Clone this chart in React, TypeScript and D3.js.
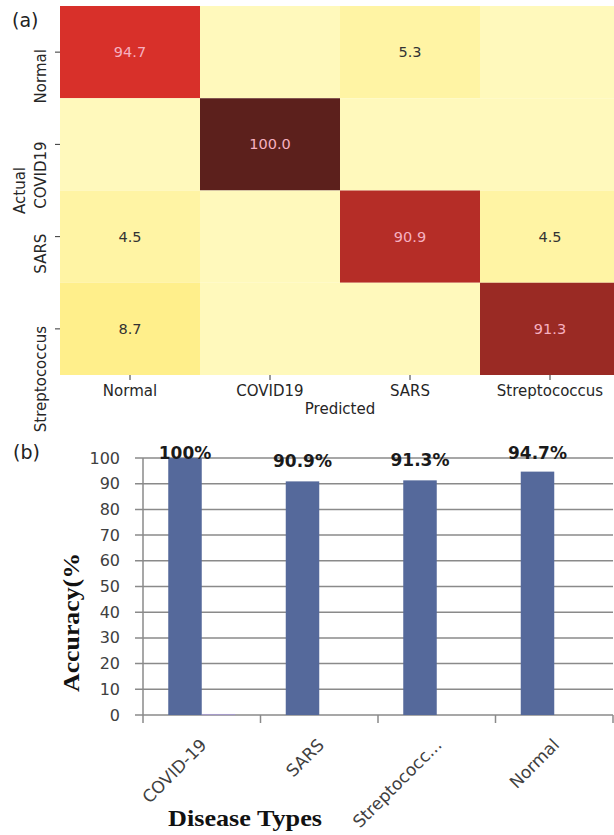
import React from "react";
import * as d3 from "d3";

// ---------- (a) confusion matrix ----------
const classes = ["Normal", "COVID19", "SARS", "Streptococcus"];
const confusionPct = [
  [94.7, 0, 5.3, 0],
  [0, 100.0, 0, 0],
  [4.5, 0, 90.9, 4.5],
  [8.7, 0, 0, 91.3],
];
const confusionCounts = [
  [18, 0, 1, 0],
  [0, 25, 0, 0],
  [1, 0, 20, 1],
  [2, 0, 0, 21],
];

// ---------- (b) bar chart ----------
const diseaseTypes = ["COVID-19", "SARS", "Streptococc...", "Normal"];
const accuracy = [100, 90.9, 91.3, 94.7];
const secondSeries = [0.4, 0, 0, 0];
const seriesKeys = ["accuracy", "other"];

const W = 614;
const H = 835;

export default function App() {
  // heatmap scales
  const hx = d3.scaleBand<string>().domain(classes).range([60, 620]);
  const hy = d3.scaleBand<string>().domain(classes).range([6, 375]);
  const color = d3
    .scaleLinear<string>()
    .domain([0, 1, 2, 18, 20, 21, 25])
    .range(["#fff9bc", "#fff4a4", "#ffef8b", "#d8302a", "#b52d27", "#9a2a24", "#5c201c"]);

  // bar chart scales
  const bx = d3.scaleBand<string>().domain(diseaseTypes).range([143, 613]).padding(0);
  const by = d3.scaleLinear().domain([0, 100]).range([715, 458]);
  const groupW = 67;
  const inner = d3.scaleBand<string>().domain(seriesKeys).range([0, groupW]);
  const seriesColors = ["#55699b", "#a59bc8"];
  const yTicks = by.ticks(10);

  return (
    <svg
      width={W}
      height={H}
      style={{ position: "absolute", left: 0, top: 0, background: "#fff" }}
    >
      <rect x={0} y={0} width={W} height={H} fill="#fff" />
      {/* (a) */}
      <text x={12} y={27} fontFamily="DejaVu Sans" fontSize={19} fill="#222">(a)</text>
      {confusionPct.map((row, i) =>
        row.map((v, j) => (
          <g key={`c${i}-${j}`}>
            <rect
              x={hx(classes[j])!}
              y={hy(classes[i])!}
              width={hx.bandwidth()}
              height={hy.bandwidth()}
              fill={color(confusionCounts[i][j])}
            />
            {v > 0 && (
              <text
                x={hx(classes[j])! + hx.bandwidth() / 2}
                y={hy(classes[i])! + hy.bandwidth() / 2}
                textAnchor="middle"
                dominantBaseline="central"
                fontFamily="DejaVu Sans"
                fontSize={14.5}
                fill={confusionCounts[i][j] > 10 ? "#f6b0c0" : "#333"}
              >
                {v.toFixed(1)}
              </text>
            )}
          </g>
        ))
      )}
      {/* heatmap y ticks */}
      {classes.map((c) => {
        const cy = hy(c)! + hy.bandwidth() / 2;
        return (
          <g key={`yt${c}`}>
            <line x1={55} x2={60} y1={cy} y2={cy} stroke="#333" strokeWidth={1} />
            <text
              transform={`translate(46,${cy - 3}) rotate(-90)`}
              textAnchor="end"
              fontFamily="DejaVu Sans"
              fontSize={15}
              fill="#262626"
            >
              {c}
            </text>
          </g>
        );
      })}
      {/* heatmap x ticks */}
      {classes.map((c) => {
        const cx = hx(c)! + hx.bandwidth() / 2;
        return (
          <g key={`xt${c}`}>
            <line x1={cx} x2={cx} y1={375} y2={380} stroke="#333" strokeWidth={1} />
            <text x={cx} y={396} textAnchor="middle" fontFamily="DejaVu Sans" fontSize={15} fill="#262626">
              {c}
            </text>
          </g>
        );
      })}
      <text x={340} y={414} textAnchor="middle" fontFamily="DejaVu Sans" fontSize={15} fill="#262626">
        Predicted
      </text>
      <text
        transform={`translate(25,190.5) rotate(-90)`}
        textAnchor="middle"
        fontFamily="DejaVu Sans"
        fontSize={15}
        fill="#262626"
      >
        Actual
      </text>

      {/* (b) */}
      <text x={13} y={459} fontFamily="DejaVu Sans" fontSize={19} fill="#222">(b)</text>
      {/* gridlines */}
      {yTicks.map((t) => (
        <g key={`g${t}`}>
          <line x1={135} x2={613} y1={by(t)} y2={by(t)} stroke="#8a8a8a" strokeWidth={1.5} />
          <text
            x={120}
            y={by(t)}
            textAnchor="end"
            dominantBaseline="central"
            fontFamily="DejaVu Sans"
            fontSize={16}
            fill="#404040"
          >
            {t}
          </text>
        </g>
      ))}
      {/* y axis line */}
      <line x1={143} x2={143} y1={by(100)} y2={723} stroke="#8a8a8a" strokeWidth={1.5} />
      {/* category ticks */}
      {diseaseTypes.map((d) => (
        <line key={`ct${d}`} x1={bx(d)! + bx.bandwidth()} x2={bx(d)! + bx.bandwidth()} y1={715} y2={723} stroke="#8a8a8a" strokeWidth={1.5} />
      ))}
      {/* bars */}
      {diseaseTypes.map((d, i) => {
        const gx = bx(d)! + (bx.bandwidth() - groupW) / 2;
        const vals = [accuracy[i], secondSeries[i]];
        return (
          <g key={`b${d}`}>
            {vals.map((v, k) =>
              v > 0 ? (
                <rect
                  key={k}
                  x={gx + inner(seriesKeys[k])!}
                  y={by(v)}
                  width={inner.bandwidth()}
                  height={Math.max(by(0) - by(v), 1.2)}
                  fill={seriesColors[k]}
                />
              ) : null
            )}
          </g>
        );
      })}
      {/* bar value labels */}
      {diseaseTypes.map((d, i) => {
        const cx = bx(d)! + (bx.bandwidth() - groupW) / 2 + inner(seriesKeys[0])! + inner.bandwidth() / 2;
        const yy = Math.max(by(accuracy[i]) - 14, by(100) + 1);
        return (
          <text
            key={`l${d}`}
            x={cx}
            y={yy}
            textAnchor="middle"
            fontFamily="DejaVu Sans"
            fontWeight="bold"
            fontSize={17}
            fill="#1a1a1a"
          >
            {`${accuracy[i]}%`}
          </text>
        );
      })}
      {/* category labels */}
      {diseaseTypes.map((d) => {
        const cx = bx(d)! + bx.bandwidth() / 2;
        return (
          <text
            key={`cl${d}`}
            transform={`translate(${cx + 6},746) rotate(-45)`}
            textAnchor="end"
            fontFamily="DejaVu Sans"
            fontSize={17}
            fill="#404040"
          >
            {d}
          </text>
        );
      })}
      {/* axis titles */}
      <text
        x={168}
        y={826}
        fontFamily="Liberation Serif"
        fontWeight="bold"
        fontSize={24}
        textLength={154}
        lengthAdjust="spacingAndGlyphs"
        fill="#111"
      >
        Disease Types
      </text>
      <text
        transform={`translate(79,692) rotate(-90)`}
        fontFamily="Liberation Serif"
        fontWeight="bold"
        fontSize={23}
        textLength={139}
        lengthAdjust="spacingAndGlyphs"
        fill="#111"
      >
        Accuracy(%
      </text>
    </svg>
  );
}
